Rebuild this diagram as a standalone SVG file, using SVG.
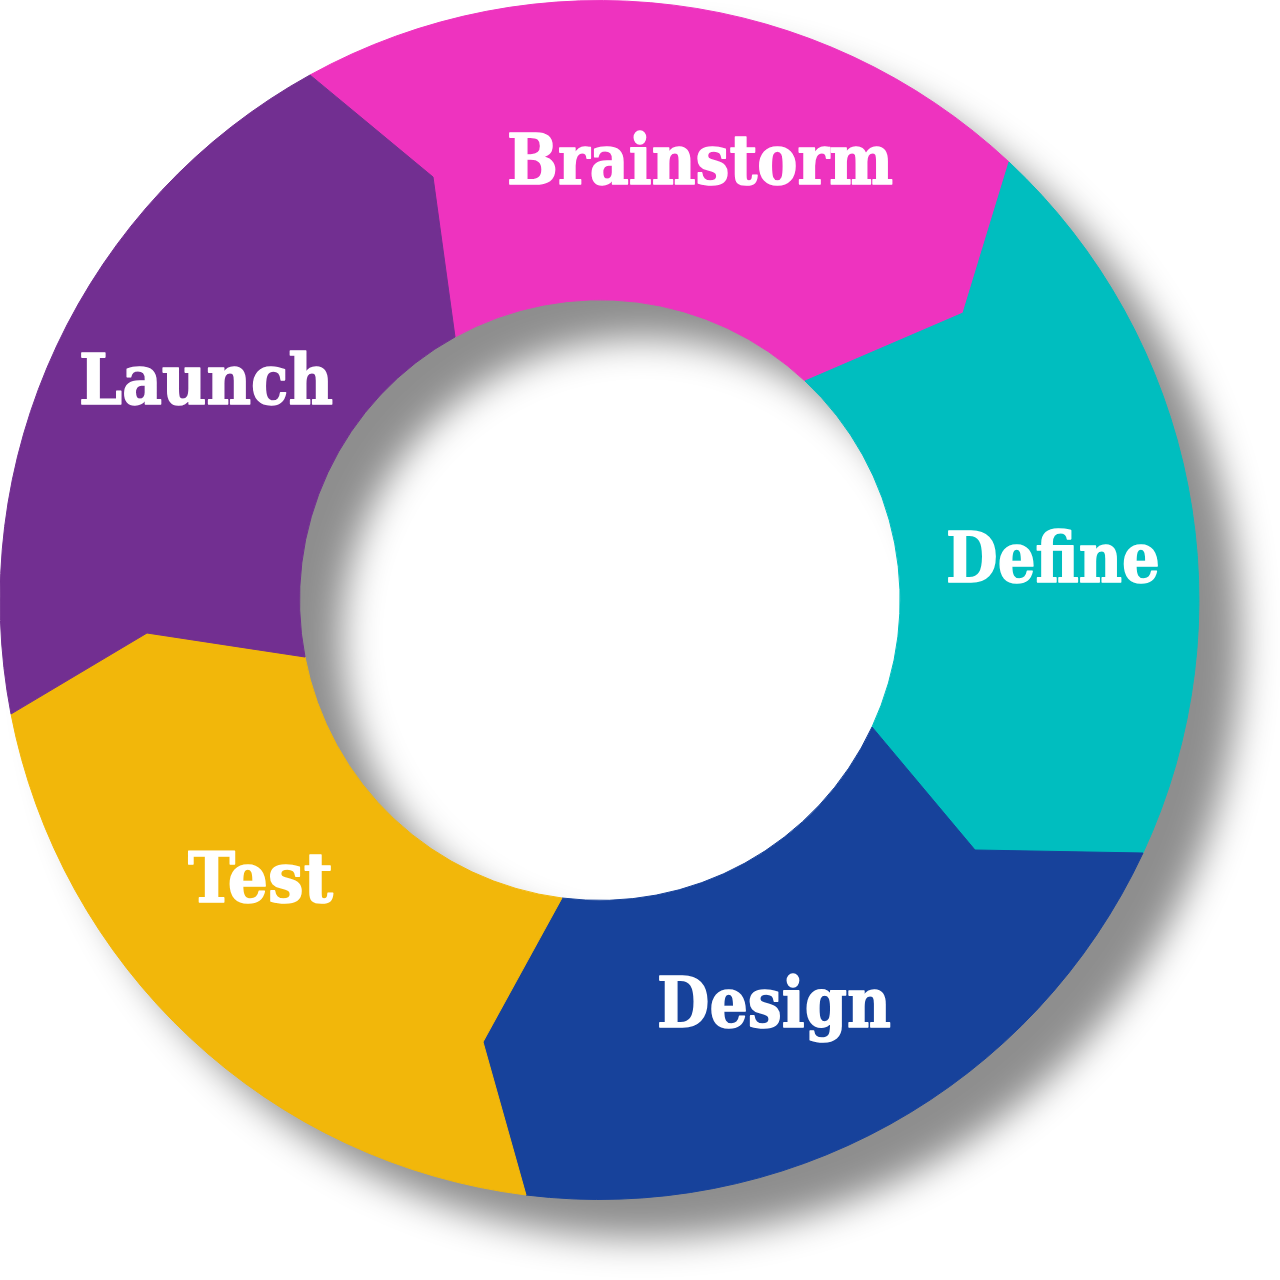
<svg xmlns="http://www.w3.org/2000/svg" width="1280" height="1280" viewBox="0 0 1280 1280">
  <defs>
    <filter id="shadow" x="-15%" y="-15%" width="140%" height="140%" color-interpolation-filters="sRGB">
      <feGaussianBlur in="SourceAlpha" stdDeviation="18" result="b"/>
      <feOffset in="b" dx="42" dy="38" result="o"/>
      <feFlood flood-color="#8e8e8e"/>
      <feComposite in2="o" operator="in" result="s"/>
      <feMerge>
        <feMergeNode in="s"/>
        <feMergeNode in="SourceGraphic"/>
      </feMerge>
    </filter>
  </defs>
  <style>
    .lbl { font-family: "DejaVu Serif", "Liberation Serif", serif; font-weight: bold; font-size: 70px; fill: #ffffff; stroke: #ffffff; stroke-width: 1.6px; stroke-linejoin: round; }
    .seg { stroke-width: 1; stroke-linejoin: round; }
  </style>
  <rect width="1280" height="1280" fill="#ffffff"/>
  <g id="ring" filter="url(#shadow)">
    <g id="brainstorm">
      <path class="seg" fill="#EE33BF" stroke="#EE33BF" d="M310,75 A600,600 0 0 1 1009,162 L963,313 L805,381 A300,300 0 0 0 455,337 L433,177 Z"/>
    </g>
    <g id="define">
      <path class="seg" fill="#00BEBF" stroke="#00BEBF" d="M1009,162 A600,600 0 0 1 1143,853 L975,850 L872,727 A300,300 0 0 0 805,381 L963,313 Z"/>
    </g>
    <g id="design">
      <path class="seg" fill="#17429B" stroke="#17429B" d="M1143,853 A600,600 0 0 1 526,1195 L483,1042 L562,898 A300,300 0 0 0 872,727 L975,850 Z"/>
    </g>
    <g id="test">
      <path class="seg" fill="#F2B70A" stroke="#F2B70A" d="M526,1195 A600,600 0 0 1 11,714 L147,633 L305,657 A300,300 0 0 0 562,898 L483,1042 Z"/>
    </g>
    <g id="launch">
      <path class="seg" fill="#722F91" stroke="#722F91" d="M11,714 A600,600 0 0 1 310,75 L433,177 L455,337 A300,300 0 0 0 305,657 L147,633 Z"/>
    </g>
  </g>
  <g id="labels">
    <text class="lbl" x="507" y="184" textLength="386" lengthAdjust="spacingAndGlyphs">Brainstorm</text>
    <text class="lbl" x="79" y="404" textLength="254" lengthAdjust="spacingAndGlyphs">Launch</text>
    <text class="lbl" x="946" y="582" textLength="214" lengthAdjust="spacingAndGlyphs">Define</text>
    <text class="lbl" x="188" y="902" textLength="145" lengthAdjust="spacingAndGlyphs">Test</text>
    <text class="lbl" x="657" y="1027" textLength="234" lengthAdjust="spacingAndGlyphs">Design</text>
  </g>
</svg>
